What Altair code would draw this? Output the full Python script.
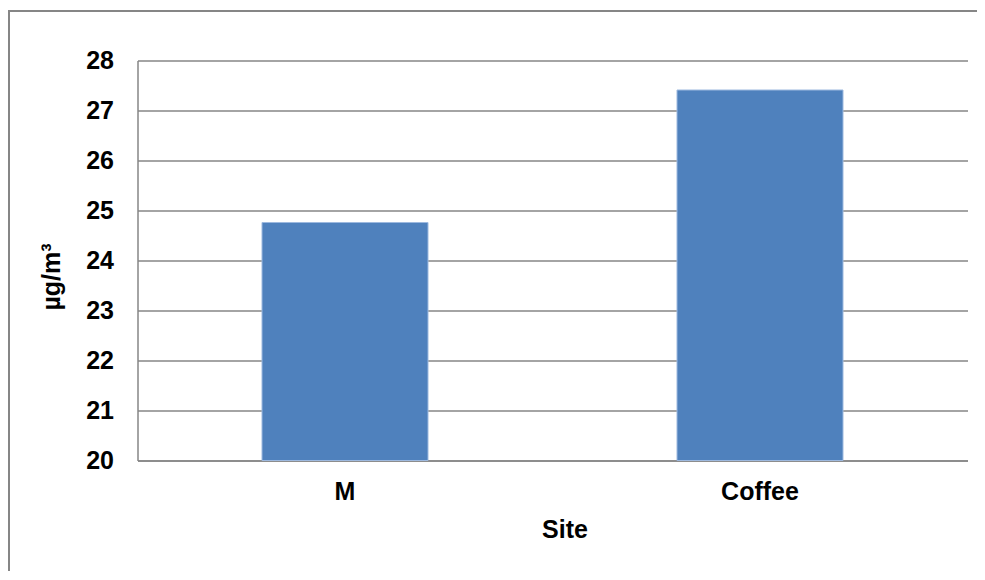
import altair as alt
import pandas as pd

sites = ["M", "Coffee"]
values = [24.76, 27.41]
y_ticks = [20, 21, 22, 23, 24, 25, 26, 27, 28]
baseline = 20

df = pd.DataFrame({"Site": sites, "value": values})
frame_df = pd.DataFrame({"k": [0]})

GRAY = "#868686"
FONT = "Liberation Sans"
FS = 25

bars = alt.Chart(df).mark_bar(
    color="#4F81BD", stroke="#9DB9DF", strokeWidth=1
).encode(
    x=alt.X("Site:N", sort=sites,
            scale=alt.Scale(paddingInner=0.6, paddingOuter=0.3),
            axis=alt.Axis(title="Site", labelAngle=0, ticks=False,
                          domainColor=GRAY, domainWidth=1.5,
                          labelFont=FONT, labelFontWeight="bold", labelFontSize=FS,
                          labelColor="black", labelPadding=19,
                          titleFont=FONT, titleFontWeight="bold", titleFontSize=FS,
                          titleColor="black", titlePadding=13, titleX=427)),
    y=alt.Y("value:Q",
            scale=alt.Scale(domain=[20, 28], nice=False, zero=False),
            axis=alt.Axis(title="µg/m³", values=y_ticks, ticks=False,
                          domainColor=GRAY, domainWidth=1.5,
                          grid=True, gridColor=GRAY, gridWidth=1.5,
                          labelFont=FONT, labelFontWeight="bold", labelFontSize=FS,
                          labelColor="black", labelPadding=24,
                          titleFont=FONT, titleFontWeight="bold", titleFontSize=FS,
                          titleColor="black", titleX=-73, titleY=216)),
    y2=alt.datum(baseline),
)

frame_left = alt.Chart(frame_df).mark_rule(color=GRAY, strokeWidth=2).encode(
    x=alt.value(-128.5), y=alt.value(-49.5), y2=alt.value(600),
)
frame_top = alt.Chart(frame_df).mark_rule(color=GRAY, strokeWidth=2).encode(
    x=alt.value(-129.5), x2=alt.value(900), y=alt.value(-49.5),
)

chart = alt.layer(frame_left, frame_top, bars).properties(
    width=830, height=400,
    autosize=alt.AutoSizeParams(type="none"),
    padding={"left": 129.5, "top": 52.5, "right": 9, "bottom": 110},
    background="white",
).configure_view(strokeWidth=0)

chart.save("out.html", embed_options={"renderer": "svg", "actions": False})
